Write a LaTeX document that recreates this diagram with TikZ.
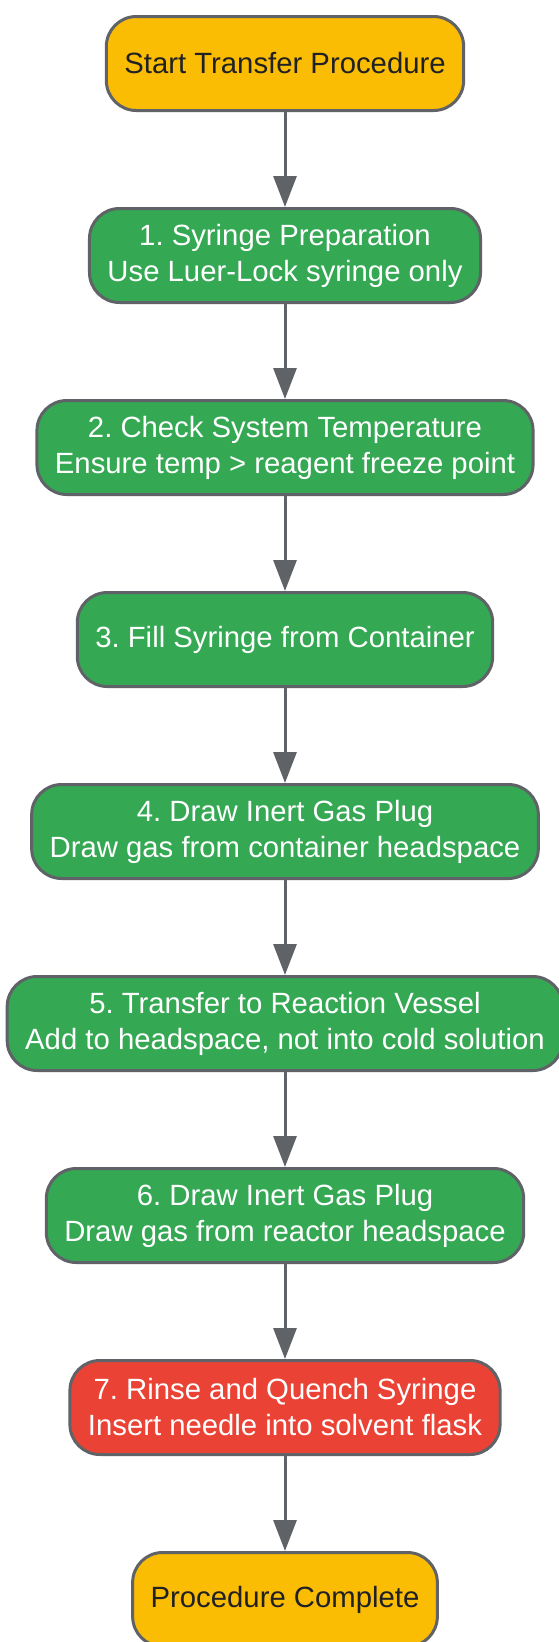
\documentclass[tikz,border=0pt]{standalone}
\usepackage{fontspec}
\setmainfont{Liberation Sans}
\usetikzlibrary{arrows.meta}
\frenchspacing

\begin{document}
\begin{tikzpicture}[x=1pt, y=1pt,
  box/.style = {draw=greyLINE, line width=3pt, rounded corners=30pt,
    minimum height=94pt, inner xsep=18pt, align=center,
    font=\fontsize{29.3}{36}\selectfont},
  startstop/.style = {box, fill=yellowFC, text=darkFC},
  stepbox/.style = {box, fill=greenFC, text=white},
  quench/.style = {box, fill=redFC, text=white},
  flow/.style = {greyLINE, line width=3pt, -{Triangle[width=23pt, length=31pt]}}
]

\definecolor{yellowFC}{HTML}{fbbc04}
\definecolor{greenFC}{HTML}{34a853}
\definecolor{redFC}{HTML}{ea4335}
\definecolor{greyLINE}{HTML}{5f6368}
\definecolor{darkFC}{HTML}{202124}

\useasboundingbox (0,0) rectangle (558,-1642);

\node[startstop] (start) at (285, -63.5) {Start Transfer Procedure};
\node[stepbox] (s1) at (285, -255.5) {1. Syringe Preparation\\Use Luer-Lock syringe only};
\node[stepbox] (s2) at (285, -447.5) {2. Check System Temperature\\Ensure temp > reagent freeze point};
\node[stepbox] (s3) at (285, -639.5) {3. Fill Syringe from Container};
\node[stepbox] (s4) at (285, -831.5) {4. Draw Inert Gas Plug\\Draw gas from container headspace};
\node[stepbox] (s5) at (285, -1023.5) {5. Transfer to Reaction Vessel\\Add to headspace, not into cold solution};
\node[stepbox] (s6) at (285, -1215.5) {6. Draw Inert Gas Plug\\Draw gas from reactor headspace};
\node[quench] (s7) at (285, -1407.5) {7. Rinse and Quench Syringe\\Insert needle into solvent flask};
\node[startstop] (stop) at (285, -1599.5) {Procedure Complete};

\foreach \a/\b in {start/s1, s1/s2, s2/s3, s3/s4, s4/s5, s5/s6, s6/s7, s7/stop} {
  \draw[flow] (\a) -- (\b);
}
\end{tikzpicture}
\end{document}
